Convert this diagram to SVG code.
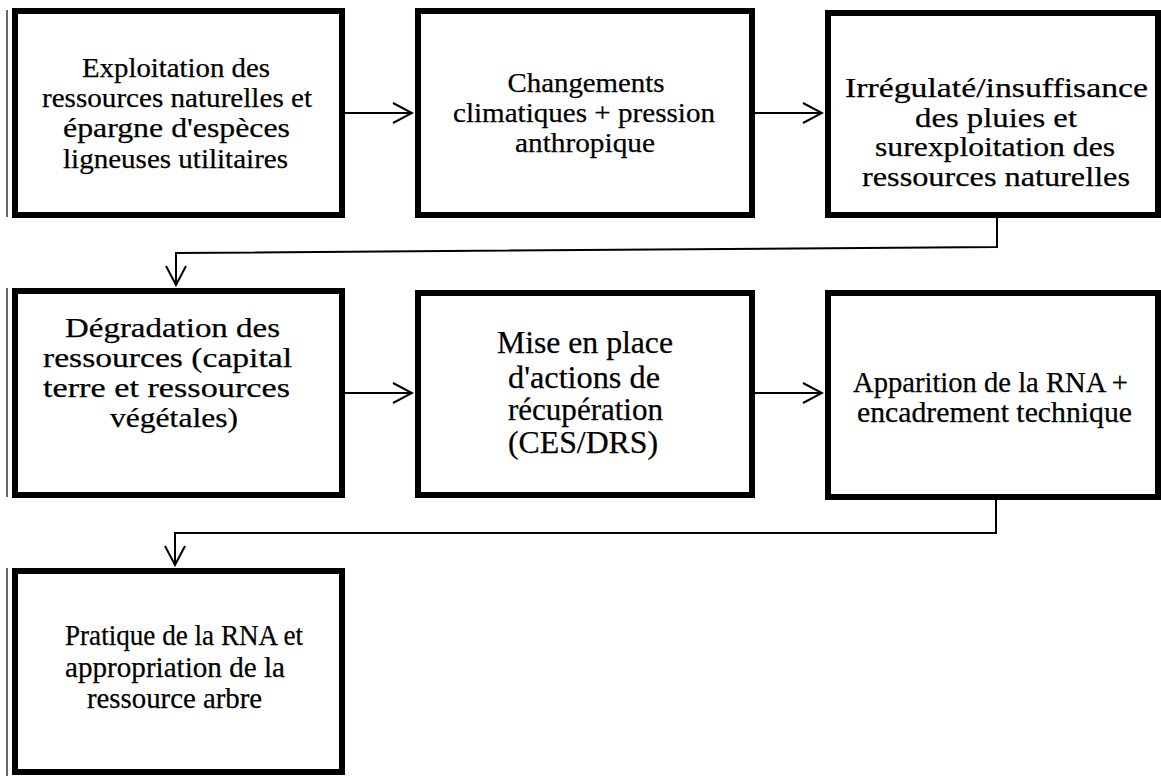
<svg xmlns="http://www.w3.org/2000/svg" width="1161" height="776" viewBox="0 0 1161 776">
<defs>
<style>
.box{fill:#fff;stroke:#000;stroke-width:6}
.edge{fill:none;stroke:#000;stroke-width:1.2}
.conn{fill:none;stroke:#000;stroke-width:2}
.t{font-family:"Liberation Serif","Times New Roman",serif;fill:#000;stroke:#000;stroke-width:0.25;text-anchor:middle}
</style>
<marker id="arr" markerUnits="userSpaceOnUse" markerWidth="22" markerHeight="24" refX="20" refY="11" orient="auto" viewBox="0 0 22 24">
<path d="M1,1 L20,11 L1,21" fill="none" stroke="#000" stroke-width="2"/>
</marker>
</defs>
<rect width="1161" height="776" fill="#fff"/>
<g id="connectors">
<line class="conn" x1="345" y1="113" x2="412" y2="113" marker-end="url(#arr)"/>
<line class="conn" x1="755" y1="113" x2="822" y2="113" marker-end="url(#arr)"/>
<polyline class="conn" points="997,218 997,247 176,253 176,285" marker-end="url(#arr)"/>
<line class="conn" x1="345" y1="393" x2="412" y2="393" marker-end="url(#arr)"/>
<line class="conn" x1="755" y1="393" x2="822" y2="393" marker-end="url(#arr)"/>
<polyline class="conn" points="996,500 996,533 175,533 175,565" marker-end="url(#arr)"/>
</g>
<g id="n1">
<line class="edge" x1="7" y1="10" x2="7" y2="217"/>
<rect class="box" x="15" y="11" width="327" height="204"/>
<text class="t" font-size="28"><tspan x="176" y="77" textLength="188" lengthAdjust="spacingAndGlyphs">Exploitation des</tspan><tspan x="177" y="107" textLength="270" lengthAdjust="spacingAndGlyphs">ressources naturelles et</tspan><tspan x="176.5" y="137" textLength="227" lengthAdjust="spacingAndGlyphs">épargne d'espèces</tspan><tspan x="175.5" y="168" textLength="225" lengthAdjust="spacingAndGlyphs">ligneuses utilitaires</tspan></text>
</g>
<g id="n2">
<rect class="box" x="418" y="11" width="334" height="204"/>
<text class="t" font-size="28"><tspan x="586" y="92" textLength="157" lengthAdjust="spacingAndGlyphs">Changements</tspan><tspan x="584" y="122" textLength="262" lengthAdjust="spacingAndGlyphs">climatiques + pression</tspan><tspan x="585" y="152" textLength="140" lengthAdjust="spacingAndGlyphs">anthropique</tspan></text>
</g>
<g id="n3">
<rect class="box" x="828" y="13" width="330" height="202"/>
<text class="t" font-size="28"><tspan x="996.5" y="97" textLength="303" lengthAdjust="spacingAndGlyphs">Irrégulaté/insuffisance</tspan><tspan x="996" y="127" textLength="162" lengthAdjust="spacingAndGlyphs">des pluies et</tspan><tspan x="995" y="156" textLength="240" lengthAdjust="spacingAndGlyphs">surexploitation des</tspan><tspan x="996" y="186" textLength="268" lengthAdjust="spacingAndGlyphs">ressources naturelles</tspan></text>
</g>
<g id="n4">
<line class="edge" x1="7" y1="288" x2="7" y2="497"/>
<rect class="box" x="15" y="291" width="327" height="204"/>
<text class="t" font-size="28"><tspan x="172.5" y="337" textLength="215" lengthAdjust="spacingAndGlyphs">Dégradation des</tspan><tspan x="167.5" y="367" textLength="249" lengthAdjust="spacingAndGlyphs">ressources (capital</tspan><tspan x="166.5" y="397" textLength="247" lengthAdjust="spacingAndGlyphs">terre et ressources</tspan><tspan x="174" y="427" textLength="128" lengthAdjust="spacingAndGlyphs">végétales)</tspan></text>
</g>
<g id="n5">
<rect class="box" x="418" y="293" width="334" height="202"/>
<text class="t" font-size="31"><tspan x="585" y="353" textLength="176" lengthAdjust="spacingAndGlyphs">Mise en place</tspan><tspan x="584" y="388" textLength="152" lengthAdjust="spacingAndGlyphs">d'actions de</tspan><tspan x="585.5" y="420" textLength="155" lengthAdjust="spacingAndGlyphs">récupération</tspan><tspan x="583" y="453" textLength="150" lengthAdjust="spacingAndGlyphs">(CES/DRS)</tspan></text>
</g>
<g id="n6">
<rect class="box" x="828" y="293" width="330" height="204"/>
<text class="t" font-size="30"><tspan x="990.5" y="392" textLength="275" lengthAdjust="spacingAndGlyphs">Apparition de la RNA +</tspan><tspan x="994.5" y="422" textLength="275" lengthAdjust="spacingAndGlyphs">encadrement technique</tspan></text>
</g>
<g id="n7">
<line class="edge" x1="7" y1="568" x2="7" y2="776"/>
<rect class="box" x="15" y="571" width="327" height="201"/>
<text class="t" font-size="30"><tspan x="184" y="645" textLength="238" lengthAdjust="spacingAndGlyphs">Pratique de la RNA et</tspan><tspan x="175" y="677" textLength="220" lengthAdjust="spacingAndGlyphs">appropriation de la</tspan><tspan x="174.5" y="708" textLength="175" lengthAdjust="spacingAndGlyphs">ressource arbre</tspan></text>
</g>
</svg>
